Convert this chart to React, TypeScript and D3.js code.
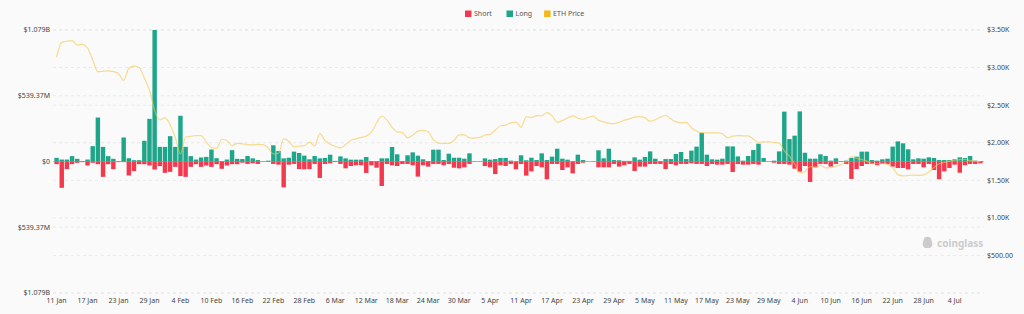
import React from 'react';
import * as d3 from 'd3';

// Daily liquidations (millions USD) and ETH close, starting 11 Jan
const START_DATE = new Date(2022, 0, 11);

const LONG = [
  30, 16, 16, 44, 22, 3, 16, 126, 361, 120,
  44, 22, 2, 197, 27, 11, 11, 170, 350, 1079,
  120, 120, 208, 120, 375, 120, 44, 16, 33, 38,
  98, 27, 3, 16, 93, 22, 20, 45, 26, 12,
  2, 7, 133, 86, 26, 31, 81, 70, 48, 18,
  45, 26, 29, 56, 5, 42, 26, 15, 15, 15,
  37, 4, 4, 26, 26, 119, 59, 4, 51, 75,
  48, 18, 4, 97, 97, 12, 64, 31, 31, 23,
  67, 0, 0, 26, 15, 20, 29, 29, 7, 2,
  51, 10, 31, 12, 67, 12, 40, 105, 23, 15,
  2, 56, 12, 0, 2, 92, 26, 105, 12, 10,
  5, 5, 34, 15, 37, 83, 23, 2, 20, 20,
  62, 78, 20, 89, 122, 236, 56, 18, 15, 23,
  124, 124, 42, 7, 45, 94, 146, 29, 0, 7,
  83, 409, 184, 212, 411, 72, 23, 23, 59, 45,
  7, 26, 2, 7, 29, 40, 81, 81, 12, 7,
  18, 23, 122, 165, 149, 100, 18, 26, 23, 34,
  29, 12, 12, 12, 18, 34, 29, 45, 7, 3,
];

const SHORT = [
  22, 216, 63, 22, 11, 5, 33, 11, 22, 126,
  22, 63, 5, 5, 115, 79, 22, 22, 33, 66,
  38, 93, 85, 44, 120, 126, 44, 22, 44, 33,
  44, 22, 60, 33, 22, 22, 10, 20, 15, 20,
  2, 3, 20, 26, 212, 26, 20, 62, 64, 62,
  20, 135, 20, 15, 3, 20, 56, 37, 31, 31,
  94, 31, 51, 201, 20, 31, 37, 20, 20, 31,
  124, 31, 42, 20, 20, 31, 20, 51, 56, 48,
  20, 3, 3, 37, 48, 103, 31, 37, 20, 64,
  20, 116, 81, 37, 48, 146, 20, 20, 70, 48,
  97, 20, 10, 2, 2, 48, 48, 48, 20, 42,
  31, 20, 78, 42, 42, 20, 20, 20, 62, 20,
  31, 20, 20, 15, 20, 20, 37, 20, 26, 26,
  20, 86, 20, 26, 26, 20, 26, 3, 3, 10,
  20, 20, 26, 59, 83, 37, 168, 48, 20, 20,
  42, 20, 3, 20, 143, 62, 37, 20, 20, 31,
  20, 20, 42, 53, 53, 64, 20, 20, 48, 20,
  70, 146, 81, 53, 26, 92, 31, 20, 20, 15,
];

const PRICE = [
  3140, 3335, 3350, 3358, 3300, 3310, 3260, 3100, 2945, 2950,
  2955, 2945, 2920, 2830, 2990, 3020, 3000, 2860, 2700, 2430,
  2303, 2335, 2240, 2070, 1850, 2075, 2085, 2095, 2095, 2010,
  1935, 1926, 2046, 2030, 1960, 1992, 1985, 1975, 1972, 1978,
  1975, 1930, 1850, 1860, 2050, 2020, 1945, 1955, 1960, 2008,
  1957, 2120, 2030, 1980, 1950, 1930, 1975, 2030, 2052, 2070,
  2088, 2140, 2262, 2352, 2305, 2205, 2145, 2135, 2065, 2100,
  2155, 2165, 2145, 2040, 1995, 1992, 1992, 2030, 2105, 2105,
  2065, 2062, 2070, 2103, 2112, 2170, 2223, 2235, 2265, 2275,
  2205, 2345, 2335, 2360, 2360, 2400, 2360, 2270, 2295, 2330,
  2358, 2326, 2312, 2338, 2355, 2297, 2278, 2258, 2255, 2272,
  2300, 2318, 2340, 2347, 2330, 2286, 2305, 2340, 2362, 2318,
  2280, 2262, 2272, 2200, 2155, 2130, 2130, 2130, 2130, 2120,
  2065, 2088, 2095, 2092, 2090, 2050, 2006, 2010, 2012, 2003,
  1993, 1890, 1820, 1720, 1595, 1620, 1680, 1675, 1700, 1665,
  1672, 1690, 1712, 1745, 1812, 1795, 1775, 1755, 1722, 1720,
  1725, 1712, 1670, 1575, 1560, 1564, 1570, 1565, 1573, 1610,
  1670, 1720, 1737, 1755, 1767, 1775, 1778, 1761, 1753, 1749,
];

const LEFT_TICKS = [1079, 539.37, 0, -539.37, -1079];
const LEFT_TICK_LABELS = ['$1.079B', '$539.37M', '$0', '$539.37M', '$1.079B'];
const RIGHT_TICKS = [500, 1000, 1500, 2000, 2500, 3000, 3500];
const RIGHT_TICK_LABELS = ['$500.00', '$1.00K', '$1.50K', '$2.00K', '$2.50K', '$3.00K', '$3.50K'];

const LEGEND = [
  { label: 'Short', color: '#f23a4f' },
  { label: 'Long', color: '#1fa68a' },
  { label: 'ETH Price', color: '#f5b818' },
];

const WIDTH = 1024;
const HEIGHT = 314;
const FONT = '"Noto Sans", "Open Sans", sans-serif';

export default function App() {
  const dates = LONG.map((_, i) => d3.timeDay.offset(START_DATE, i));
  const fmt = d3.timeFormat('%-d %b');

  const x = d3.scaleBand<number>()
    .domain(dates.map((_, i) => i))
    .range([54, 983])
    .paddingInner(0.14)
    .paddingOuter(0.07);
  const yL = d3.scaleLinear().domain([-1079, 1079]).range([293, 30]);
  const yR = d3.scaleLinear().domain([0, 3500]).range([293, 30]);
  const cx = (i: number) => (x(i) as number) + x.bandwidth() / 2;

  const line = d3.line<number>()
    .x((_, i) => cx(i))
    .y(d => yR(d))
    .curve(d3.curveMonotoneX);

  const gridYs = [...LEFT_TICKS.map(v => yL(v)), ...[0, ...RIGHT_TICKS].map(v => yR(v))];
  const x0 = 53, x1 = 984;

  // legend layout
  let lx = 465;
  const legendItems = LEGEND.map(l => {
    const item = { ...l, x: lx };
    lx += 12 + l.label.length * 3.9 + 10;
    return item;
  });

  return (
    <svg width={WIDTH} height={HEIGHT} style={{ display: 'block', background: '#fafafa' }}>
      <style>{`body{margin:0;background:#fafafa}`}</style>
      <rect width={WIDTH} height={HEIGHT} fill="#fafafa" />

      {gridYs.map((y, i) => (
        <line key={'g' + i} x1={x0} x2={x1} y1={y} y2={y}
          stroke="#e6e6e6" strokeWidth={0.8} strokeDasharray="3,3" />
      ))}

      <line x1={x0} x2={x1} y1={yL(0)} y2={yL(0)} stroke="#f2a0a8" strokeWidth={0.8} />

      {LONG.map((v, i) => (
        <rect key={'l' + i} x={x(i)} width={x.bandwidth()}
          y={yL(v)} height={Math.max(0, yL(0) - yL(v))} fill="#1fa68a" />
      ))}
      {SHORT.map((v, i) => (
        <rect key={'s' + i} x={x(i)} width={x.bandwidth()}
          y={yL(0)} height={Math.max(0, yL(-v) - yL(0))} fill="#f23a4f" />
      ))}

      <path d={line(PRICE) || ''} fill="none" stroke="#f5c64a" strokeOpacity={0.6} strokeWidth={1.2} />

      {LEFT_TICKS.map((v, i) => (
        <text key={'lt' + i} x={50} y={yL(v)} dy="0.35em" textAnchor="end"
          fontSize={7} fill="#444" fontFamily={FONT}>{LEFT_TICK_LABELS[i]}</text>
      ))}
      {RIGHT_TICKS.map((v, i) => (
        <text key={'rt' + i} x={987} y={yR(v)} dy="0.35em" textAnchor="start"
          fontSize={7} fill="#444" fontFamily={FONT}>{RIGHT_TICK_LABELS[i]}</text>
      ))}

      {dates.map((d, i) => i % 6 === 0 ? (
        <text key={'xt' + i} x={cx(i)} y={301} dy="0.35em" textAnchor="middle"
          fontSize={7} fill="#444" fontFamily={FONT}>{fmt(d)}</text>
      ) : null)}

      {legendItems.map(l => (
        <g key={l.label} transform={`translate(${l.x},14)`}>
          <rect x={0} y={-3.5} width={6.5} height={6.5} fill={l.color} />
          <text x={9} y={0} dy="0.35em" fontSize={7} fill="#555" fontFamily={FONT}>{l.label}</text>
        </g>
      ))}

      <g transform="translate(922,243)" fill="#cccccc">
        <path d="M2,-4 C2,-7 9,-7 9,-4 L10,-1 C11,1 10,4 8,5 L3,5 C1,4 0,1 1,-1 Z" />
        <text x={15} y={0} dy="0.35em" fontSize={10} fontWeight="bold" fontFamily={FONT}>coinglass</text>
      </g>
    </svg>
  );
}
